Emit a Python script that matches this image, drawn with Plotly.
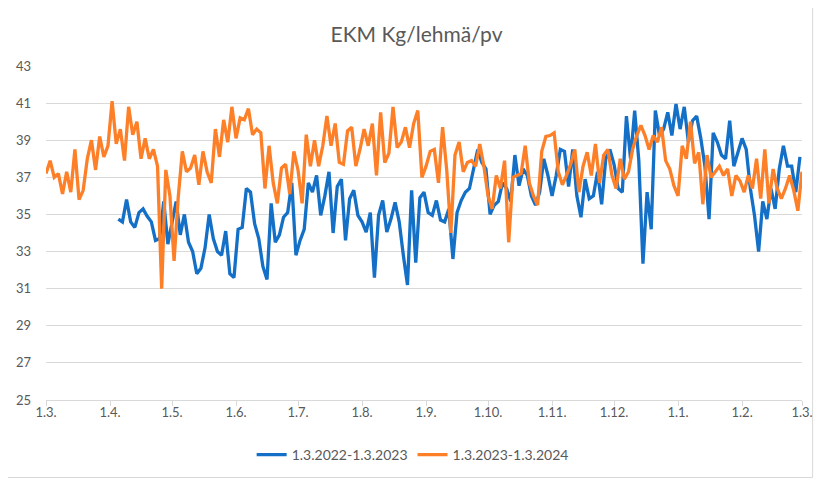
import pandas as pd
import plotly.graph_objects as go

# ---------------- data ----------------
title_text = "EKM Kg/lehmä/pv"
series_names = ["1.3.2022-1.3.2023", "1.3.2023-1.3.2024"]

# season 2022-2023: readings every 2nd day starting 5.4.2022
blue_start = "2022-04-05"
blue_season_start = "2022-03-01"
blue_values = [
    34.75, 34.6, 35.8, 34.6, 34.3, 35.1, 35.3, 34.9, 34.6, 33.6,
    33.7, 35.7, 33.4, 34.6, 35.7, 33.9, 35.0, 33.5, 33.0, 31.8,
    32.1, 33.2, 35.0, 33.7, 33.0, 32.8, 34.1, 31.8, 31.6, 34.2,
    34.3, 36.4, 36.2, 34.5, 33.7, 32.2, 31.5, 35.6, 33.5, 33.9,
    34.85, 35.1, 36.7, 32.8, 33.6, 34.2, 36.7, 36.2, 37.1, 34.95,
    36.0, 37.3, 34.0, 36.5, 36.9, 33.6, 35.85, 36.3, 34.95, 34.6,
    34.05, 35.1, 31.6, 34.95, 35.75, 34.05, 34.75, 35.65, 34.6, 32.8,
    31.2, 36.3, 32.4, 35.9, 36.2, 35.1, 34.95, 35.75, 34.7, 34.6,
    35.3, 32.6, 35.1, 35.75, 36.2, 36.4, 37.45, 38.5, 37.8, 37.45,
    35.0, 35.5, 35.7, 36.7, 36.4, 35.7, 38.2, 36.55, 37.45, 37.1,
    36.0, 35.5, 36.2, 38.0, 37.1, 36.0, 37.1, 38.5, 38.4, 36.5,
    38.5, 36.0, 34.85, 36.9, 35.85, 36.0, 37.3, 35.55, 38.0, 38.5,
    37.7, 36.4, 36.2, 40.3, 38.0, 40.6, 37.9, 32.35, 36.2, 34.2,
    40.6, 39.25, 39.6, 40.5, 39.25, 40.95, 39.6, 40.8, 38.9, 40.05,
    40.3, 39.1, 37.6, 34.75, 39.4, 38.9, 38.2, 38.0, 40.05, 37.6,
    38.35, 39.1, 38.5, 36.4, 34.95, 33.0, 35.7, 34.75, 36.4, 35.3,
    37.45, 38.7, 37.6, 37.6, 36.2, 38.1,
]

# season 2023-2024: readings every 2nd day starting 1.3.2023
orange_start = "2023-03-01"
orange_season_start = "2023-03-01"
orange_values = [
    37.2, 37.9, 37.0, 37.2, 36.1, 37.3, 36.2, 38.5, 35.8, 36.3,
    38.0, 39.0, 37.4, 39.2, 38.1, 38.7, 41.1, 38.8, 39.6, 37.9,
    40.8, 39.3, 40.0, 38.0, 39.1, 38.0, 38.5, 37.6, 31.0, 37.4,
    36.0, 32.5, 35.9, 38.4, 37.3, 37.5, 38.2, 36.6, 38.4, 37.3,
    36.7, 39.6, 38.1, 40.1, 38.9, 40.8, 39.1, 40.2, 40.1, 40.7,
    39.3, 39.6, 39.4, 36.4, 38.7, 36.7, 35.6, 37.5, 37.7, 36.1,
    38.4, 37.4, 35.6, 39.3, 37.6, 39.0, 37.6, 38.7, 40.3, 38.7,
    39.9, 37.8, 37.7, 39.5, 39.7, 37.6, 38.5, 39.6, 38.7, 39.9,
    37.1, 40.5, 37.8, 38.3, 40.8, 38.6, 38.9, 39.7, 38.6, 39.9,
    40.6, 37.0, 37.6, 38.4, 38.5, 36.7, 39.7, 37.4, 34.0, 38.2,
    38.9, 37.3, 37.8, 37.9, 37.6, 38.8, 37.6, 36.0, 35.3, 37.1,
    36.4, 37.9, 33.5, 37.0, 37.1, 37.2, 38.7, 36.7, 36.0, 35.5,
    38.4, 39.2, 39.25, 39.4, 37.3, 36.6, 37.1, 37.7, 38.5, 36.2,
    37.6, 38.35, 37.1, 38.8, 36.7, 38.2, 38.5, 37.1, 36.4, 38.0,
    36.9, 37.3, 38.5, 39.25, 39.8, 39.25, 38.5, 39.25, 38.9, 39.7,
    37.9, 37.45, 36.55, 36.0, 38.7, 38.0, 40.0, 37.75, 38.35, 35.55,
    38.2, 37.0, 37.3, 37.6, 37.1, 37.45, 36.0, 37.1, 36.8, 36.2,
    37.1, 36.4, 38.0, 35.85, 38.5, 35.6, 37.45, 36.4, 35.85, 36.4,
    37.1, 36.3, 35.2, 37.3,
]

tick_months = pd.date_range("2023-03-01", "2024-03-01", freq="MS")
tick_labels = ["1.3.", "1.4.", "1.5.", "1.6.", "1.7.", "1.8.", "1.9.",
               "1.10.", "1.11.", "1.12.", "1.1.", "1.2.", "1.3."]
y_ticks = [25, 27, 29, 31, 33, 35, 37, 39, 41, 43]

# ---------------- positions (days since 1.3.) ----------------
blue_dates = pd.date_range(blue_start, periods=len(blue_values), freq="2D")
blue_x = [(d - pd.Timestamp(blue_season_start)).days for d in blue_dates]
orange_dates = pd.date_range(orange_start, periods=len(orange_values), freq="2D")
orange_x = [(d - pd.Timestamp(orange_season_start)).days for d in orange_dates]
tick_x = [(d - pd.Timestamp(orange_season_start)).days for d in tick_months]

fig = go.Figure()
fig.add_trace(go.Scatter(x=blue_x, y=blue_values, mode="lines",
                         name=series_names[0],
                         line=dict(color="#1470c6", width=3.3)))
fig.add_trace(go.Scatter(x=orange_x, y=orange_values, mode="lines",
                         name=series_names[1],
                         line=dict(color="#fd7f27", width=3.3)))

FONT = "Lato, 'Open Sans', sans-serif"
W, H = 817, 474  # page body has an 8px margin
fig.update_layout(
    width=W, height=H,
    margin=dict(l=38, r=23, t=58, b=82, autoexpand=False),
    paper_bgcolor="white", plot_bgcolor="white",
    font=dict(family=FONT, size=13, color="#595959"),
    title=dict(text=title_text, x=0.5, xanchor="center", y=(H - 27) / H, yanchor="middle",
               xref="container", yref="container",
               font=dict(family=FONT, size=21, color="#595959")),
    showlegend=True,
    legend=dict(orientation="h", x=0.485, xanchor="center", y=-0.165, yanchor="middle",
                font=dict(family=FONT, size=14, color="#595959"),
                itemwidth=30, bgcolor="rgba(0,0,0,0)"),
    xaxis=dict(range=[0, tick_x[-1]], tickmode="array", tickvals=tick_x, ticktext=tick_labels,
               showgrid=False, zeroline=False, showline=True, linecolor="#d9d9d9", linewidth=1,
               ticks="outside", ticklen=5, tickcolor="#d9d9d9", ticklabelstandoff=-5,
               tickfont=dict(family=FONT, size=13, color="#595959")),
    yaxis=dict(range=[25, 43], tickmode="array", tickvals=y_ticks,
               showgrid=True, gridcolor="#d9d9d9", gridwidth=1, zeroline=False,
               showline=False, ticks="", ticklabelstandoff=14,
               tickfont=dict(family=FONT, size=13, color="#595959")),
    shapes=[dict(type="rect", xref="paper", yref="paper",
                 x0=-0.07, x1=1.014, y0=-0.232, y1=1.2,
                 line=dict(color="#d9d9d9", width=1), fillcolor="rgba(0,0,0,0)", layer="below")],
)

fig.write_html("out.html")
